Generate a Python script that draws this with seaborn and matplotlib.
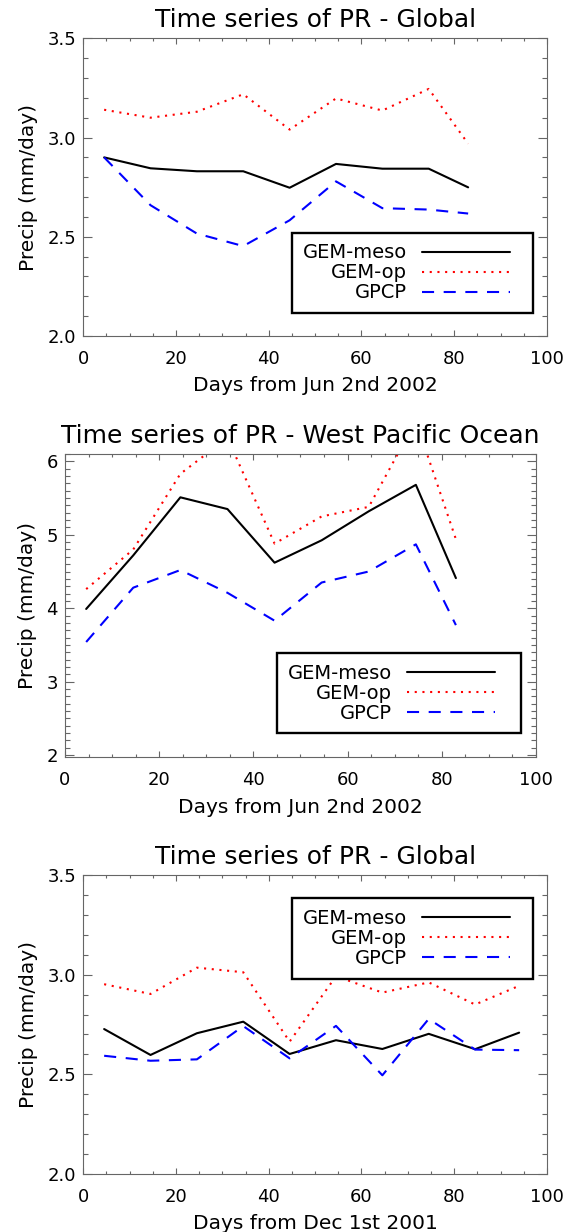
import matplotlib
matplotlib.use("Agg")
import matplotlib.pyplot as plt
from matplotlib.ticker import MultipleLocator
import seaborn as sns

# ten-day means, x = days from start date
days_jun = [4.5, 14.5, 24.5, 34.5, 44.5, 54.5, 64.5, 74.5, 83]
days_dec = [4.5, 14.5, 24.5, 34.5, 44.5, 54.5, 64.5, 74.5, 84.5, 94]

# panel 1: global, summer 2002
glob_jun_meso = [2.90, 2.845, 2.83, 2.83, 2.747, 2.867, 2.843, 2.843, 2.749]
glob_jun_op = [3.14, 3.10, 3.13, 3.218, 3.04, 3.197, 3.136, 3.245, 2.969]
glob_jun_gpcp = [2.90, 2.659, 2.516, 2.453, 2.583, 2.779, 2.644, 2.637, 2.617]

# panel 2: west pacific ocean, summer 2002
wp_meso = [3.99, 4.72, 5.51, 5.35, 4.62, 4.925, 5.32, 5.68, 4.41]
wp_op = [4.26, 4.80, 5.83, 6.32, 4.88, 5.25, 5.38, 6.55, 4.94]
wp_gpcp = [3.54, 4.28, 4.52, 4.21, 3.83, 4.35, 4.50, 4.87, 3.77]

# panel 3: global, winter 2001/02
glob_dec_meso = [2.727, 2.597, 2.706, 2.764, 2.602, 2.671, 2.627, 2.703, 2.626, 2.709]
glob_dec_op = [2.952, 2.903, 3.035, 3.012, 2.664, 2.992, 2.910, 2.961, 2.850, 2.944]
glob_dec_gpcp = [2.593, 2.568, 2.575, 2.742, 2.580, 2.743, 2.495, 2.778, 2.624, 2.621]

sns.set_style("ticks")
plt.rcParams["font.family"] = ["DejaVu Sans"]
plt.rcParams["text.color"] = "black"
plt.rcParams["axes.labelcolor"] = "black"
plt.rcParams["axes.titlecolor"] = "black"

GREY = "#666666"


def draw_panel(ax, days, meso, op, gpcp, title, xlabel, ylim, ymajor,
               leg_loc, leg_box):
    sns.lineplot(x=days, y=meso, color="black", lw=1.5,
                 label="GEM-meso", ax=ax)
    sns.lineplot(x=days, y=op, color="red", lw=1.5,
                 linestyle=(0, (1, 2.7)), label="GEM-op", ax=ax)
    sns.lineplot(x=days, y=gpcp, color="blue", lw=1.5,
                 linestyle=(0, (5.8, 4.6)), label="GPCP", ax=ax)

    ax.set_xlim(0, 100)
    ax.set_xticks(range(0, 101, 20))
    ax.xaxis.set_minor_locator(MultipleLocator(5))
    ax.set_ylim(*ylim)
    ax.yaxis.set_major_locator(MultipleLocator(ymajor))
    ax.yaxis.set_minor_locator(MultipleLocator(0.1))

    for s in ax.spines.values():
        s.set_color(GREY)
        s.set_linewidth(0.8)
    ax.tick_params(which="both", direction="in", top=True, right=True,
                   color=GREY, width=0.8, labelsize=13, labelcolor="black")
    ax.tick_params(axis="x", which="major", length=4.3, pad=10)
    ax.tick_params(axis="x", which="minor", length=2.2)
    ax.tick_params(axis="y", which="major", length=6.7, pad=5)
    ax.tick_params(axis="y", which="minor", length=3.3)

    ax.set_title(title, fontsize=18, pad=8)
    ax.set_xlabel(xlabel, fontsize=14.5, labelpad=6)
    ax.set_ylabel("Precip (mm/day)", fontsize=14.5, labelpad=7)

    leg = ax.legend(loc=leg_loc, bbox_to_anchor=leg_box, mode="expand",
                    borderaxespad=0, fontsize=14, handlelength=4.5,
                    handletextpad=0.8, borderpad=0.55, labelspacing=0.05,
                    markerfirst=False, fancybox=False, framealpha=1,
                    edgecolor="black", labelcolor="black")
    leg.get_frame().set_linewidth(1.7)


fig = plt.figure(figsize=(5.7, 12.32), dpi=100)

ax1 = fig.add_axes([0.1461, 0.7273, 0.8135, 0.2416])
draw_panel(ax1, days_jun, glob_jun_meso, glob_jun_op, glob_jun_gpcp,
           "Time series of PR - Global", "Days from Jun 2nd 2002",
           (2.0, 3.5), 0.5, "lower right", (0.45, 0.077, 0.52, 0.5))

ax2 = fig.add_axes([0.1140, 0.3853, 0.8263, 0.2462])
draw_panel(ax2, days_jun, wp_meso, wp_op, wp_gpcp,
           "Time series of PR - West Pacific Ocean", "Days from Jun 2nd 2002",
           (1.97, 6.1), 1, "lower right", (0.45, 0.079, 0.519, 0.5))

ax3 = fig.add_axes([0.1461, 0.0471, 0.8135, 0.2427])
draw_panel(ax3, days_dec, glob_dec_meso, glob_dec_op, glob_dec_gpcp,
           "Time series of PR - Global", "Days from Dec 1st 2001",
           (2.0, 3.5), 0.5, "upper right", (0.45, 0.0, 0.52, 0.922))

fig.savefig("out.png", dpi=100)
